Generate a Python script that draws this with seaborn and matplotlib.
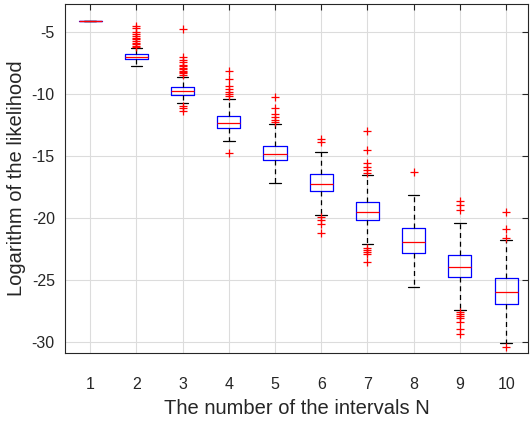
import numpy as np
import pandas as pd
import matplotlib
matplotlib.use('Agg')
import matplotlib.pyplot as plt
import seaborn as sns

# Box statistics (one entry per N)
n_intervals = [1, 2, 3, 4, 5, 6, 7, 8, 9, 10]
medians = [-4.06, -7.00, -9.77, -12.36, -14.84, -17.24, -19.47, -21.95, -23.95, -26.00]
q1 = [-4.06, -7.18, -10.07, -12.76, -15.32, -17.77, -20.17, -22.79, -24.78, -26.94]
q3 = [-4.06, -6.78, -9.45, -11.79, -14.17, -16.45, -18.69, -20.80, -22.98, -24.84]
whisker_low = [-4.06, -7.70, -10.69, -13.79, -17.16, -19.71, -22.11, -25.59, -27.39, -30.06]
whisker_high = [-4.06, -6.29, -8.64, -10.37, -12.41, -14.68, -16.54, -18.10, -20.42, -21.79]

# Outliers per N
outliers_2 = [-4.49, -4.68, -4.95, -5.16, -5.30, -5.44, -5.57, -5.70, -5.84, -5.97, -6.11, -6.21]
outliers_3 = [-4.76, -7.0, -7.2, -7.4, -7.6, -7.75, -7.9, -8.0, -8.1, -8.2, -8.3, -8.45,
              -10.93, -11.14, -11.34]
outliers_4 = [-8.10, -8.80, -9.34, -9.61, -9.80, -9.99, -10.15, -14.78]
outliers_5 = [-10.21, -11.10, -11.60, -11.87, -12.09, -12.22]
outliers_6 = [-13.65, -13.84, -19.91, -20.17, -20.50, -21.20]
outliers_7 = [-12.98, -14.52, -15.54, -15.87, -16.13, -16.35,
              -22.38, -22.54, -22.70, -22.92, -23.57]
outliers_8 = [-16.29]
outliers_9 = [-18.61, -18.96, -19.31, -27.59, -27.72, -27.88, -28.07, -28.40, -28.96, -29.39]
outliers_10 = [-19.53, -20.90, -21.57, -30.42]

outlier_lists = {2: outliers_2, 3: outliers_3, 4: outliers_4, 5: outliers_5, 6: outliers_6,
                 7: outliers_7, 8: outliers_8, 9: outliers_9, 10: outliers_10}
fliers = pd.DataFrame([(n, v) for n, vals in outlier_lists.items() for v in vals],
                      columns=['N', 'loglik'])

sns.set_style('white')
plt.rcParams['font.family'] = ['Liberation Sans', 'DejaVu Sans']

fig = plt.figure(figsize=(5.3, 4.23), dpi=100)
ax = fig.add_axes([0.123, 0.165, 0.873, 0.826])

stats = []
for i, n in enumerate(n_intervals):
    stats.append({'med': medians[i], 'q1': q1[i], 'q3': q3[i],
                  'whislo': whisker_low[i], 'whishi': whisker_high[i],
                  'fliers': [], 'label': str(n)})

ax.bxp(stats, positions=n_intervals, widths=0.5, showfliers=False,
       boxprops=dict(color='blue', linewidth=0.9),
       medianprops=dict(color='red', linewidth=0.9),
       whiskerprops=dict(color='black', linewidth=0.9, linestyle=(0, (4, 3))),
       capprops=dict(color='black', linewidth=0.9))

sns.scatterplot(data=fliers, x='N', y='loglik', marker='+', color='red',
                s=40, linewidth=0.9, ax=ax, zorder=3, legend=False)

ax.set_xlim(0.46, 10.47)
ax.set_ylim(-30.9, -2.7)
ax.set_xticks(n_intervals)
ax.set_xticklabels([str(n) for n in n_intervals])
ax.set_yticks([-5, -10, -15, -20, -25, -30])
ax.set_yticklabels(['-5', '-10', '-15', '-20', '-25', '-30'])

ax.grid(True, color='#dcdcdc', linewidth=0.8)
ax.set_axisbelow(True)
ax.tick_params(direction='in', length=4, width=0.8, colors='#262626',
               labelsize=11.5, top=True, right=True)
ax.tick_params(axis='x', pad=17)
ax.tick_params(axis='y', pad=7.5)
for s in ax.spines.values():
    s.set_color('#262626')
    s.set_linewidth(0.8)

ax.set_xlabel('The number of the intervals N', fontsize=14.5, color='#262626', labelpad=5)
ax.set_ylabel('Logarithm of the likelihood', fontsize=14.5, color='#262626', labelpad=4)

fig.savefig('out.png', dpi=100)
